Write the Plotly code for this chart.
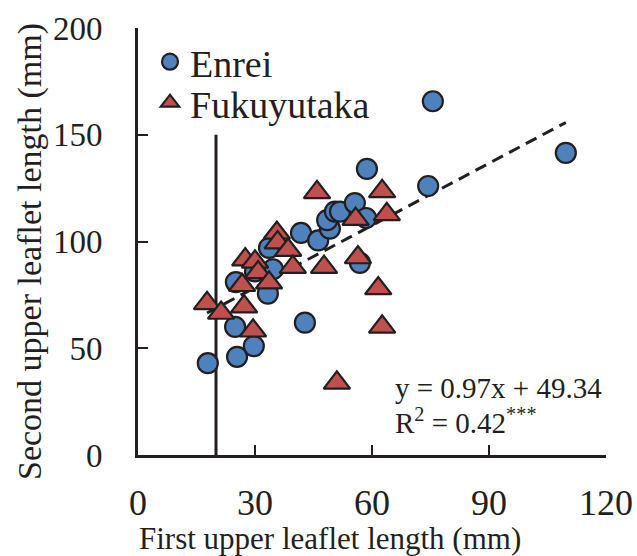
import plotly.graph_objects as go

# Enrei (circles)
enrei_x = [17.9, 25.4, 29.7, 24.9, 25.1, 42.8, 33.3, 33.6, 34.6, 30.0, 41.8, 46.2,
           49.2, 48.5, 50.5, 51.8, 55.6, 58.7, 58.5, 56.9, 75.6, 74.4, 109.7]
enrei_y = [43.0, 46.0, 51.0, 60.0, 81.0, 62.0, 75.6, 97.0, 87.0, 86.0, 104.0, 100.5,
           106.0, 110.0, 114.0, 114.0, 118.0, 134.0, 111.0, 90.0, 165.7, 126.0, 141.5]

# Fukuyutaka (triangles)
fuku_x = [17.7, 21.3, 27.2, 29.5, 27.5, 30.0, 30.8, 26.7, 33.6, 35.6, 35.8, 38.5,
          39.7, 47.7, 45.9, 55.8, 56.4, 62.6, 63.8, 61.6, 62.6, 51.0]
fuku_y = [71.0, 66.5, 69.5, 58.2, 91.5, 90.5, 85.5, 79.5, 80.7, 104.0, 99.5, 96.0,
          88.0, 88.0, 123.0, 110.5, 92.5, 123.5, 112.7, 78.0, 60.0, 33.8]

slope, intercept = 0.97, 49.34
fit_x = [min(enrei_x + fuku_x), max(enrei_x + fuku_x)]
fit_y = [slope * v + intercept for v in fit_x]

x_ticks = [0, 30, 60, 90, 120]
y_ticks = [0, 50, 100, 150, 200]

INK = "#231f20"
SERIF = "Liberation Serif, Times New Roman, serif"

# plot area in pixels: x 138..606, y 28..455
L, R, T, B = 138, 606, 28, 455
W, H = R - L, B - T


def px(x):
    return (x - L) / W


def py(y):
    return (B - y) / H


fig = go.Figure()
fig.add_trace(go.Scatter(
    x=fit_x, y=fit_y, mode="lines", showlegend=False,
    line=dict(color=INK, width=3, dash="12px,7px"), hoverinfo="skip"))
fig.add_trace(go.Scatter(
    x=enrei_x, y=enrei_y, mode="markers", name="Enrei", legend="legend",
    marker=dict(symbol="circle", size=20, color="#4F81BD",
                line=dict(color=INK, width=2.2))))
fig.add_trace(go.Scatter(
    x=fuku_x, y=fuku_y, mode="markers", name="Fukuyutaka", legend="legend2",
    marker=dict(symbol="triangle-up", size=23, color="#C0504D",
                line=dict(color=INK, width=2.2))))

# vertical reference line at x = 20
fig.add_shape(type="line", x0=20, x1=20, y0=0, y1=150, xref="x", yref="y",
              line=dict(color=INK, width=3), layer="below")

fig.add_annotation(x=px(393), y=py(388), xref="paper", yref="paper",
                   xanchor="left", yanchor="middle", showarrow=False,
                   text="y = 0.97x + 49.34",
                   font=dict(family=SERIF, size=29, color=INK))
fig.add_annotation(x=px(393), y=py(421), xref="paper", yref="paper",
                   xanchor="left", yanchor="middle", showarrow=False,
                   text="R<sup>2</sup> = 0.42<sup>***</sup>",
                   font=dict(family=SERIF, size=29, color=INK))

fig.add_annotation(x=px(330), y=py(538), xref="paper", yref="paper",
                   xanchor="center", yanchor="middle", showarrow=False,
                   text="First upper leaflet length (mm)",
                   font=dict(family=SERIF, size=31, color=INK))
fig.add_annotation(x=px(30), y=py(252), xref="paper", yref="paper",
                   xanchor="center", yanchor="middle", showarrow=False,
                   textangle=-90,
                   text="Second upper leaflet length (mm)",
                   font=dict(family=SERIF, size=34, color=INK))

leg_common = dict(xanchor="left", yanchor="middle", bgcolor="rgba(0,0,0,0)",
                  font=dict(family=SERIF, size=38, color=INK),
                  itemsizing="trace")

fig.update_layout(
    width=637, height=556,
    margin=dict(l=L, r=637 - R, t=T, b=556 - B, autoexpand=False),
    paper_bgcolor="white", plot_bgcolor="white",
    font=dict(family=SERIF, color=INK),
    legend=dict(x=px(150), y=py(62), **leg_common),
    legend2=dict(x=px(150), y=py(103), **leg_common),
    xaxis=dict(range=[0, 120], tickvals=x_ticks, ticks="inside", ticklen=10,
               tickwidth=2, tickcolor=INK, showline=True, linewidth=3,
               linecolor=INK, showgrid=False, zeroline=False, automargin=False,
               tickfont=dict(family=SERIF, size=36, color=INK),
               ticklabelstandoff=14),
    yaxis=dict(range=[0, 200], tickvals=y_ticks, ticks="inside", ticklen=10,
               tickwidth=2, tickcolor=INK, showline=True, linewidth=3,
               linecolor=INK, showgrid=False, zeroline=False, automargin=False,
               tickfont=dict(family=SERIF, size=33, color=INK),
               ticklabelstandoff=26),
)
fig.write_html("out.html")
